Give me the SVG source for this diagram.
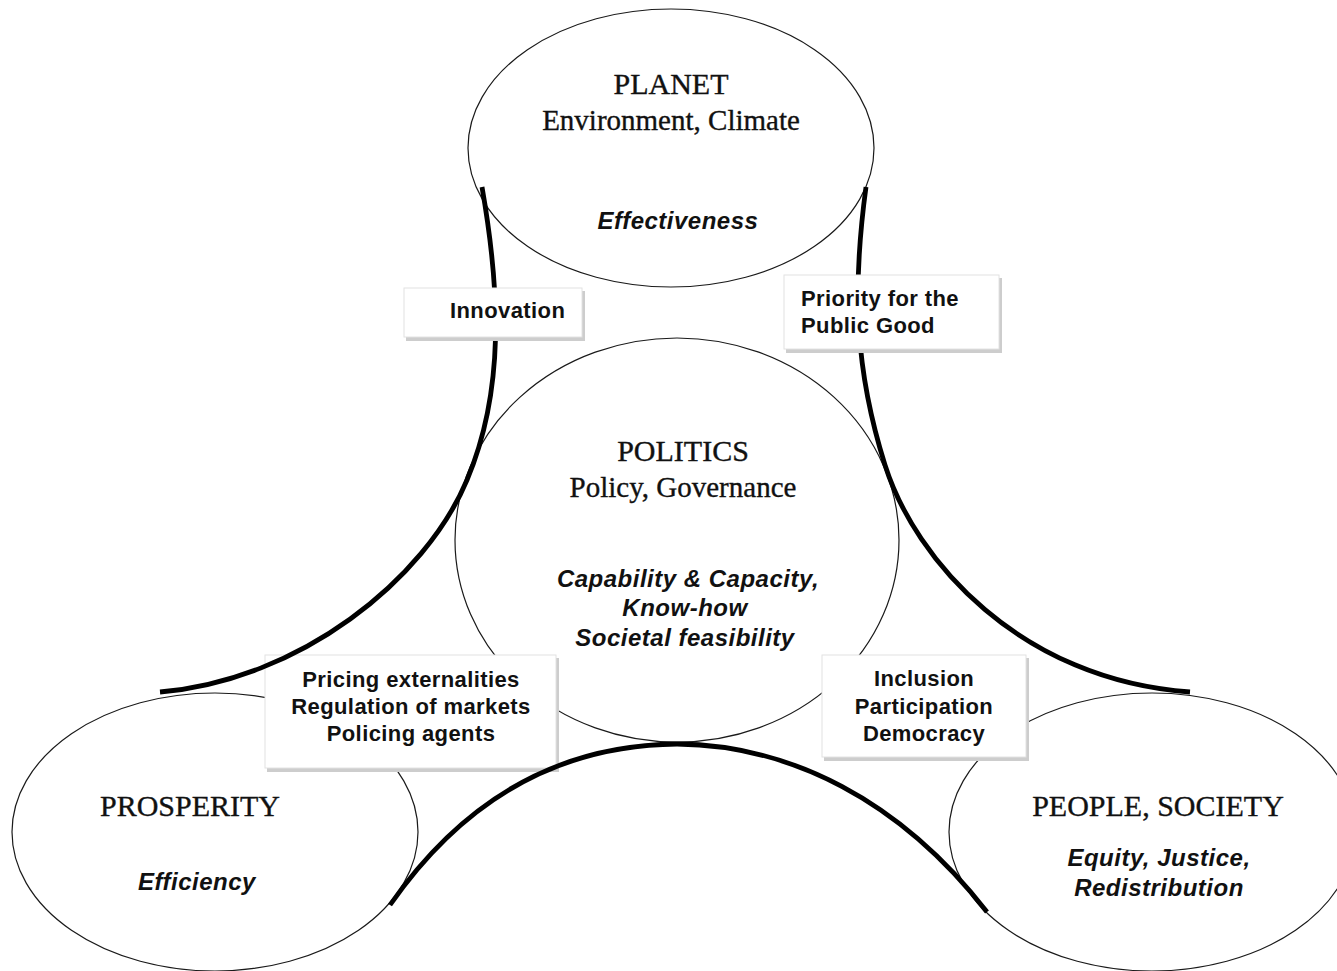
<svg xmlns="http://www.w3.org/2000/svg" width="1337" height="971" viewBox="0 0 1337 971">
  <style>
    .ring { fill: none; stroke: #1a1a1a; stroke-width: 1.2; }
    .band { fill: none; stroke: #000; stroke-width: 4.8; stroke-linecap: butt; }
    .title { font-family: "Liberation Serif", "Times New Roman", serif; font-size: 29px; fill: #111; stroke: #111; stroke-width: 0.35; text-anchor: middle; }
    .caps { font-size: 30px; }
    .value { font-family: "Liberation Sans", Arial, sans-serif; font-size: 24px; font-weight: bold; font-style: italic; fill: #111; text-anchor: middle; letter-spacing: 0.5px; }
    .tag { font-family: "Liberation Sans", Arial, sans-serif; font-size: 22px; font-weight: bold; fill: #111; letter-spacing: 0.4px; }
    .mid { text-anchor: middle; }
    .shadow { fill: #cdcdcd; }
    .card { fill: #fff; stroke: #e2e2e2; stroke-width: 1; }
  </style>

  <rect width="1337" height="971" fill="#fff"/>

  <!-- circles of the four domains -->
  <g id="planet">
    <ellipse class="ring" cx="671" cy="148" rx="203" ry="139"/>
    <text class="title caps" x="671" y="94">PLANET</text>
    <text class="title" x="671" y="130">Environment, Climate</text>
    <text class="value" x="678" y="229">Effectiveness</text>
  </g>

  <g id="politics">
    <ellipse class="ring" cx="677" cy="540" rx="222" ry="202"/>
    <text class="title caps" x="683" y="461">POLITICS</text>
    <text class="title" x="683" y="497">Policy, Governance</text>
    <text class="value" x="688" y="587">Capability &amp; Capacity,</text>
    <text class="value" x="685" y="616">Know-how</text>
    <text class="value" x="685" y="646">Societal feasibility</text>
  </g>

  <g id="prosperity">
    <ellipse class="ring" cx="215" cy="832" rx="203" ry="139"/>
    <text class="title caps" x="190" y="816">PROSPERITY</text>
    <text class="value" x="197" y="890">Efficiency</text>
  </g>

  <g id="people">
    <ellipse class="ring" cx="1152" cy="832" rx="203" ry="139"/>
    <text class="title caps" x="1158" y="816">PEOPLE, SOCIETY</text>
    <text class="value" x="1159" y="866">Equity, Justice,</text>
    <text class="value" x="1159" y="896">Redistribution</text>
  </g>

  <!-- lower link labels sit beneath the connecting bands -->
  <g id="label-markets">
    <rect class="shadow" x="267" y="658" width="292" height="114"/>
    <rect class="card" x="265" y="655" width="291" height="113"/>
    <text class="tag mid" x="411" y="687">Pricing externalities</text>
    <text class="tag mid" x="411" y="714">Regulation of markets</text>
    <text class="tag mid" x="411" y="741">Policing agents</text>
  </g>

  <g id="label-inclusion">
    <rect class="shadow" x="824" y="658" width="205" height="103"/>
    <rect class="card" x="822" y="655" width="204" height="102"/>
    <text class="tag mid" x="924" y="686">Inclusion</text>
    <text class="tag mid" x="924" y="714">Participation</text>
    <text class="tag mid" x="924" y="741">Democracy</text>
  </g>

  <!-- thick bands joining the circles -->
  <g id="connectors">
    <path class="band" d="M 482 187 C 500 290, 505 390, 467 480 C 425 580, 300 680, 160 692"/>
    <path class="band" d="M 866 187 C 852 290, 855 370, 885 465 C 915 560, 1020 680, 1190 692"/>
    <path class="band" d="M 390 905 C 470 790, 570 745, 677 744 C 790 745, 900 800, 987 912"/>
  </g>

  <!-- upper link labels cover the bands -->
  <g id="label-innovation">
    <rect class="shadow" x="406" y="291" width="179" height="50"/>
    <rect class="card" x="404" y="288" width="178" height="49"/>
    <text class="tag" x="450" y="318">Innovation</text>
  </g>

  <g id="label-public-good">
    <rect class="shadow" x="786" y="278" width="216" height="75"/>
    <rect class="card" x="784" y="275" width="215" height="74"/>
    <text class="tag" x="801" y="306">Priority for the</text>
    <text class="tag" x="801" y="333">Public Good</text>
  </g>
</svg>
